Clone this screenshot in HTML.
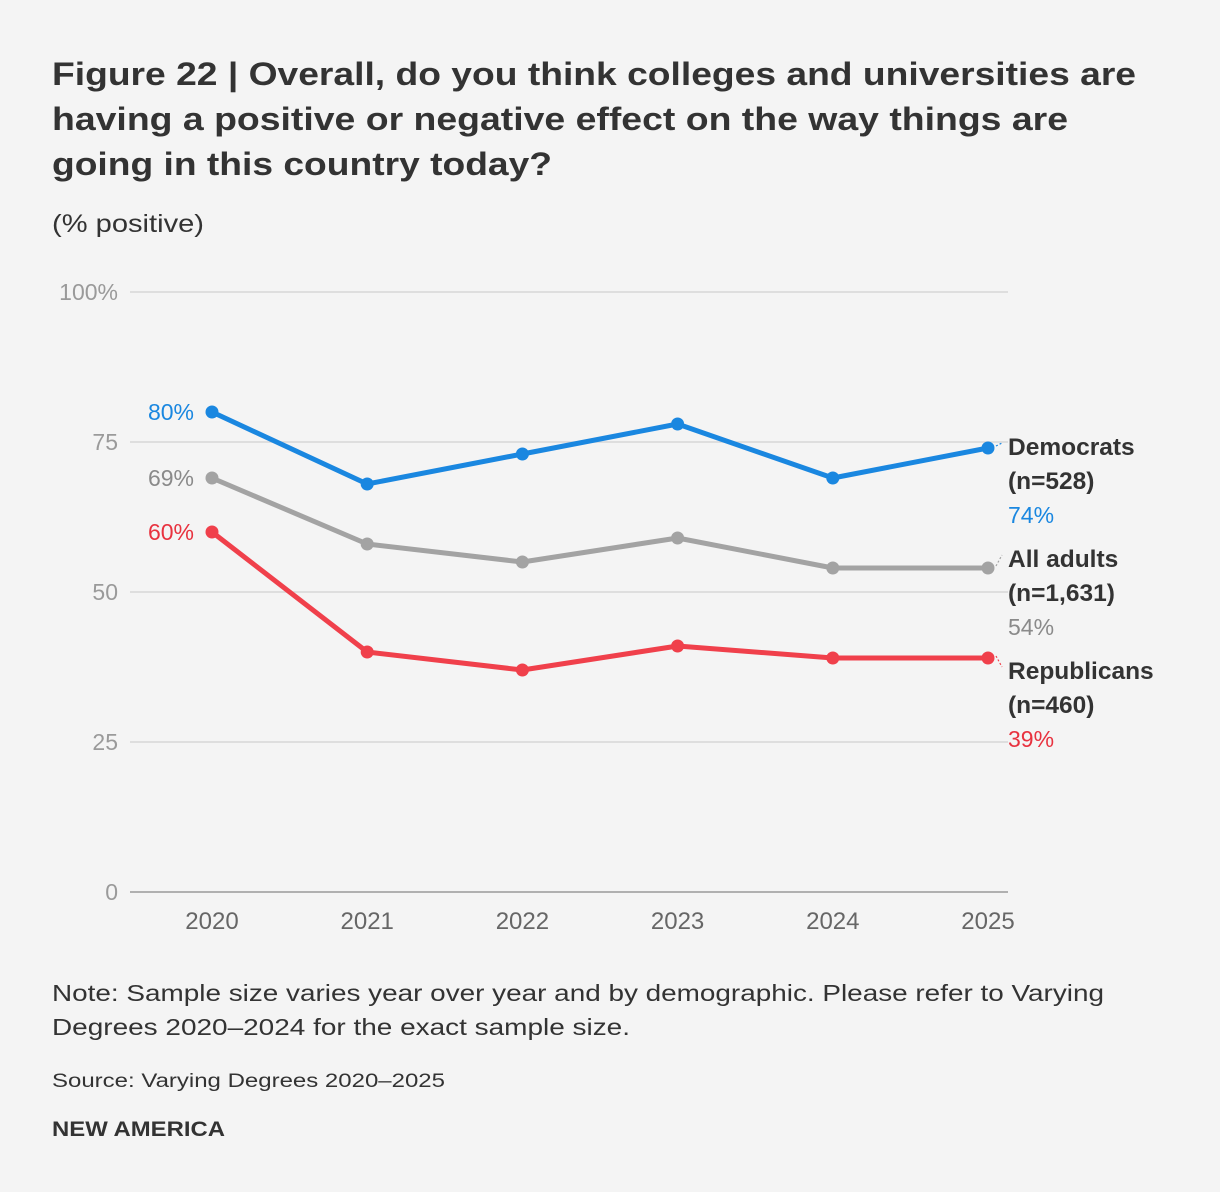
<!DOCTYPE html>
<html><head><meta charset="utf-8"><style>
html,body{margin:0;padding:0;background:#f4f4f4;}
svg{display:block;font-family:"Liberation Sans",sans-serif;}
</style></head><body>
<svg id="chart" width="1220" height="1192" viewBox="0 0 1220 1192">
<rect width="1220" height="1192" fill="#f4f4f4"/>
<g font-size="32" font-weight="bold" fill="#333">
<text x="52" y="85" textLength="1084" lengthAdjust="spacingAndGlyphs">Figure 22 | Overall, do you think colleges and universities are</text>
<text x="52" y="130" textLength="1016" lengthAdjust="spacingAndGlyphs">having a positive or negative effect on the way things are</text>
<text x="52" y="175" textLength="500" lengthAdjust="spacingAndGlyphs">going in this country today?</text>
</g>
<text x="52" y="232" font-size="25" fill="#333" textLength="152" lengthAdjust="spacingAndGlyphs">(% positive)</text>
<g id="grid"></g><g id="series"></g><g id="labels"></g>
<g font-size="23" fill="#333">
<text x="52" y="1001" textLength="1052" lengthAdjust="spacingAndGlyphs">Note: Sample size varies year over year and by demographic. Please refer to Varying</text>
<text x="52" y="1035" textLength="578" lengthAdjust="spacingAndGlyphs">Degrees 2020–2024 for the exact sample size.</text>
</g>
<text x="52" y="1087" font-size="19" fill="#333" textLength="393" lengthAdjust="spacingAndGlyphs">Source: Varying Degrees 2020–2025</text>
<text x="52" y="1136" font-size="21" font-weight="bold" fill="#333" textLength="173" lengthAdjust="spacingAndGlyphs">NEW AMERICA</text>
</svg>
<script>
const years = ["2020","2021","2022","2023","2024","2025"];
const yTicks = [0,25,50,75,100];
const yTickLabels = ["0","25","50","75","100%"];
const democrats = [80,68,73,78,69,74];
const allAdults = [69,58,55,59,54,54];
const republicans = [60,40,37,41,39,39];
const seriesNames = ["Democrats","All adults","Republicans"];
const seriesN = ["(n=528)","(n=1,631)","(n=460)"];

const NS="http://www.w3.org/2000/svg";
const x = i => 212 + i*(988-212)/(years.length-1);
const y = v => 892 - v*6;
function mk(tag, attrs, parent, txt){const e=document.createElementNS(NS,tag);for(const k in attrs)e.setAttribute(k,attrs[k]);if(txt!==undefined)e.textContent=txt;parent.appendChild(e);return e;}
const grid=document.getElementById('grid'), ser=document.getElementById('series'), lab=document.getElementById('labels');
yTicks.forEach((t,i)=>{
  const l=mk('line',{x1:130,x2:1008,y1:y(t),y2:y(t),stroke:t===0?'#999':'#d6d6d6','stroke-width':1.5},grid);
  
  
  const tx=mk('text',{x:118,y:y(t)+8,'text-anchor':'end','font-size':23,fill:'#9a9a9a'},grid,yTickLabels[i]);
  
  
});
years.forEach((yr,i)=>{
  const tx=mk('text',{x:x(i),y:929,'text-anchor':'middle','font-size':24,fill:'#666'},grid,yr);
  
  
});
const all=[[democrats,'#1a87e0','democrats'],[allAdults,'#a3a3a3','all-adults'],[republicans,'#f0404b','republicans']];
const startLabelColor=['#1a87e0','#8a8a8a','#e8323f'];
const endLabelColor=['#1a87e0','#8a8a8a','#e8323f'];
const labelTop=[447,559,671];
all.forEach(([vals,col,nm],s)=>{
  const p=mk('polyline',{points:vals.map((v,i)=>x(i)+','+y(v)).join(' '),fill:'none',stroke:col,'stroke-width':5,'stroke-linejoin':'round'},ser);
  
  
  vals.forEach((v,i)=>{
    const c=mk('circle',{cx:x(i),cy:y(v),r:6.5,fill:col},ser);
    
    
  });
  const st=mk('text',{x:194,y:y(vals[0])+8,'text-anchor':'end','font-size':23,fill:startLabelColor[s]},lab,vals[0]+'%');
  
  
  const ly=labelTop[s];
  const ld=mk('line',{x1:x(5)+8,y1:y(vals[5])-2,x2:1002,y2:ly-4,stroke:col,'stroke-width':1.2,'stroke-dasharray':'2,2'},lab);
  
  
  const n1=mk('text',{x:1008,y:ly+8,'font-size':24.5,'font-weight':'bold',fill:'#333'},lab,seriesNames[s]);
  
  
  const n2=mk('text',{x:1008,y:ly+42,'font-size':24.5,'font-weight':'bold',fill:'#333'},lab,seriesN[s]);
  
  
  const n3=mk('text',{x:1008,y:ly+76,'font-size':23,fill:endLabelColor[s]},lab,vals[5]+'%');
  
  
});
</script>
</body></html>
